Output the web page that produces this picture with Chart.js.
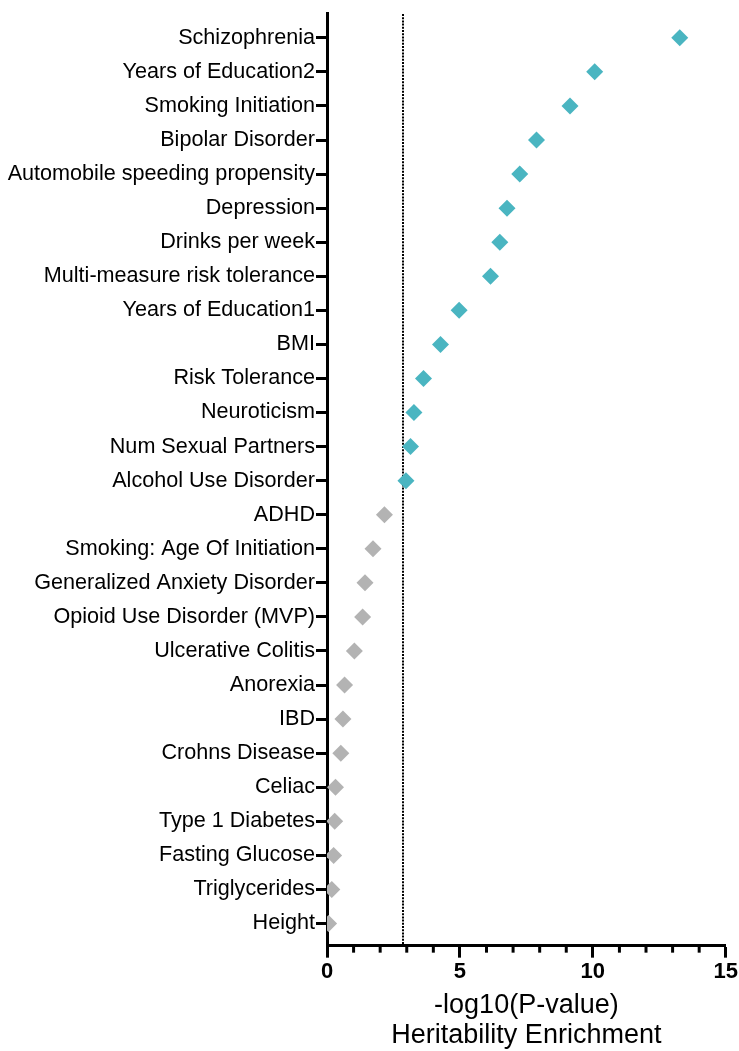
<!DOCTYPE html>
<html>
<head>
<meta charset="utf-8">
<script src="https://cdn.jsdelivr.net/npm/chart.js@4/dist/chart.umd.min.js"></script>
<style>
  html, body { margin: 0; padding: 0; background: #fff; }
  #wrap { width: 739px; height: 1051px; position: relative; }
</style>
</head>
<body>
<div id="wrap"><canvas id="c"></canvas></div>
<script>
const traits = [
  "Schizophrenia", "Years of Education2", "Smoking Initiation", "Bipolar Disorder",
  "Automobile speeding propensity", "Depression", "Drinks per week",
  "Multi-measure risk tolerance", "Years of Education1", "BMI", "Risk Tolerance",
  "Neuroticism", "Num Sexual Partners", "Alcohol Use Disorder", "ADHD",
  "Smoking: Age Of Initiation", "Generalized Anxiety Disorder",
  "Opioid Use Disorder (MVP)", "Ulcerative Colitis", "Anorexia", "IBD",
  "Crohns Disease", "Celiac", "Type 1 Diabetes", "Fasting Glucose",
  "Triglycerides", "Height"
];
const enrichment = [
  13.27, 10.07, 9.14, 7.88, 7.25, 6.77, 6.50, 6.15, 4.97, 4.27, 3.63,
  3.27, 3.14, 2.97, 2.16, 1.73, 1.43, 1.34, 1.03, 0.66, 0.60, 0.52,
  0.32, 0.29, 0.25, 0.18, 0.06
];
const significanceThreshold = 2.85;
const xTickLabels = [0, 5, 10, 15];
const xTitle = ["-log10(P-value)", "Heritability Enrichment"];

const sigColor = "#4AB5C1";
const nsColor = "#B3B3B3";

const points = enrichment.map((v, i) => ({ x: v, y: i }));

const thresholdPlugin = {
  id: "thresholdLine",
  beforeDatasetsDraw(chart) {
    const { ctx, chartArea, scales } = chart;
    const px = Math.round(scales.x.getPixelForValue(significanceThreshold));
    ctx.save();
    ctx.strokeStyle = "#000";
    ctx.lineWidth = 2;
    ctx.setLineDash([2, 1.2]);
    ctx.beginPath();
    ctx.moveTo(px, Math.round(chartArea.top));
    ctx.lineTo(px, chartArea.bottom);
    ctx.stroke();
    ctx.restore();
  }
};

const minorTickPlugin = {
  id: "minorTicks",
  afterDraw(chart) {
    const { ctx, scales } = chart;
    const xs = scales.x;
    ctx.save();
    ctx.strokeStyle = "#000";
    ctx.lineWidth = 3;
    xs.ticks.forEach(t => {
      if (xTickLabels.includes(t.value)) return;
      const px = xs.getPixelForValue(t.value);
      ctx.beginPath();
      ctx.moveTo(px, xs.top);
      ctx.lineTo(px, xs.top + 7);
      ctx.stroke();
    });
    ctx.restore();
  }
};

const FONT = "Liberation Sans, Arial, Helvetica, sans-serif";

new Chart(document.getElementById("c"), {
  type: "scatter",
  data: {
    datasets: [{
      data: points,
      pointStyle: "rectRot",
      pointRadius: 8.5,
      pointHoverRadius: 8.5,
      borderWidth: 0,
      pointBackgroundColor: ctx => (enrichment[ctx.dataIndex] >= significanceThreshold ? sigColor : nsColor),
      pointBorderColor: ctx => (enrichment[ctx.dataIndex] >= significanceThreshold ? sigColor : nsColor),
    }]
  },
  options: {
    responsive: true,
    maintainAspectRatio: false,
    animation: false,
    layout: { padding: { top: 9, right: 4, left: 6, bottom: 0 } },
    plugins: { legend: { display: false }, tooltip: { enabled: false } },
    scales: {
      x: {
        type: "linear",
        min: 0,
        max: 15,
        ticks: {
          stepSize: 1,
          autoSkip: false,
          maxRotation: 0,
          padding: 1,
          color: "#000",
          font: { family: FONT, size: 22, weight: "bold" },
          callback: v => (xTickLabels.includes(v) ? String(v) : "")
        },
        grid: {
          drawOnChartArea: false,
          drawTicks: true,
          tickLength: 12,
          tickWidth: 3,
          tickColor: ctx => (ctx.tick && xTickLabels.includes(ctx.tick.value) ? "#000" : "rgba(0,0,0,0)")
        },
        border: { display: true, color: "#000", width: 3 },
        title: {
          display: true,
          text: xTitle,
          color: "#000",
          font: { family: FONT, size: 27, lineHeight: 1.11 },
          padding: { top: 5, bottom: 0 }
        }
      },
      y: {
        type: "linear",
        reverse: true,
        min: -0.7,
        max: 26.65,
        afterBuildTicks: axis => {
          axis.ticks = traits.map((_, i) => ({ value: i }));
        },
        afterFit: axis => { axis.width = 321; },
        ticks: {
          autoSkip: false,
          padding: 1,
          color: "#000",
          font: { family: FONT, size: 21.6 },
          callback: v => traits[v] !== undefined ? traits[v] : ""
        },
        grid: {
          drawOnChartArea: false,
          drawTicks: true,
          tickLength: 11,
          tickWidth: 3,
          tickColor: "#000"
        },
        border: { display: true, color: "#000", width: 3 }
      }
    }
  },
  plugins: [thresholdPlugin, minorTickPlugin]
});
</script>
</body>
</html>
